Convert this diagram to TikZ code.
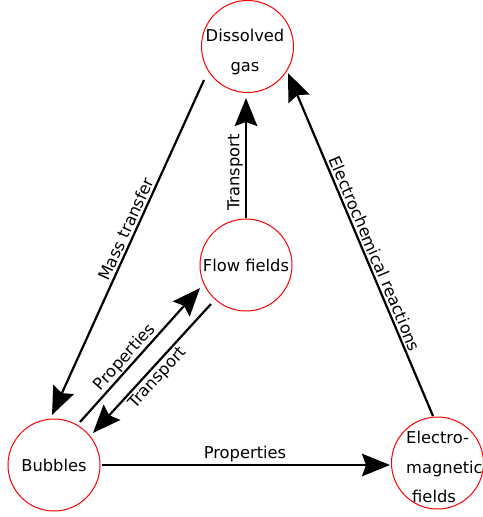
\documentclass[tikz,border=0pt]{standalone}
\usepackage{fontspec}
\setmainfont{DejaVu Sans}
\usetikzlibrary{arrows.meta,calc}
\begin{document}
\begin{tikzpicture}[x=1bp,y=-1bp,
  every node/.style={font=\fontsize{16.3bp}{30bp}\selectfont, inner sep=0pt},
  ball/.style={circle, draw=red, line width=1bp, minimum size=92bp},
  link/.style={line width=2.2bp, -{Stealth[length=28bp,width=22.5bp,inset=4bp]}}]
\useasboundingbox (0,0) rectangle (483,517);
% circles
\node[ball] (dg) at (247.5,46.5) {};
\node[ball] (ff) at (246,265) {Flow fields};
\node[ball] (bb) at (54,465) {Bubbles};
\node[ball] (em) at (437.5,463) {};
% multi-line texts
\node[anchor=base] (dgA) at (245,42) {Dissolved};
\node[anchor=base] (dgB) at (245,72) {gas};
\node[anchor=base west] (emA) at (406,443) {Electro-};
\node[anchor=base west] (emB) at (406,473) {magnetic};
\node[anchor=base west] (emC) at (412,502) {fields};
% connectors
\draw[link] ($(dg.center)+(-43.5,33.5)$) -- ($(bb.center)+(-2,-50)$);
\draw[link] (ff.north) -- ($(dg.center)+(-1.5,51.5)$);
\draw[link] ($(em.center)+(-4.5,-47)$) -- ($(dg.center)+(40.5,26.5)$);
\draw[link] ($(bb.center)+(26,-43)$) -- ($(ff.center)+(-46,23)$);
\draw[link] ($(ff.center)+(-35,39)$) -- ($(bb.center)+(39,-32)$);
\draw[link] ($(bb.center)+(48,0)$) -- ($(em.center)+(-47.5,2)$);
% labels
\node[rotate=65.6] (l1) at (126,229) {Mass transfer};
\node[rotate=90] (l2) at (235,172.5) {Transport};
\node[rotate=-67.1] (l3) at (375,253.5) {Electrochemical reactions};
\node[rotate=48.2] (l4) at (125,357.5) {Properties};
\node[rotate=47.6] (l5) at (158,378) {Transport};
\node (l6) at (245,454) {Properties};
\end{tikzpicture}
\end{document}
